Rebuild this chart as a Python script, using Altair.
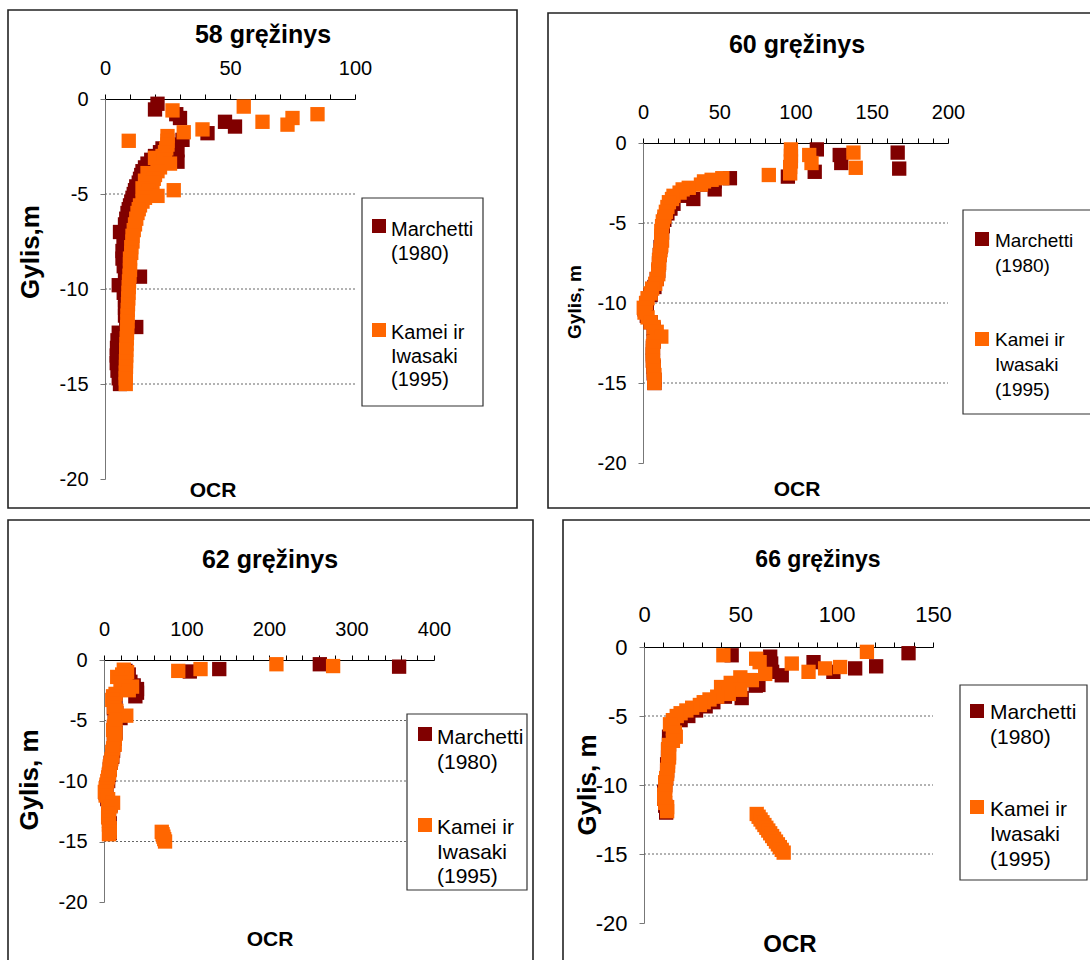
import altair as alt
import pandas as pd

SERIES = ["Marchetti (1980)", "Kamei ir Iwasaki (1995)"]
COLORS = ["#800000", "#FF6600"]
LEGEND_LINES = [["Marchetti", "(1980)"], ["Kamei ir", "Iwasaki", "(1995)"]]
GRID_DEPTHS = [-5, -10, -15]
Y_TICKS = [0, -5, -10, -15, -20]

# ---- 58 gręžinys ----
p58_m_depth = [-0.25, -0.55, -0.8, -1.0, -1.2, -1.45, -1.8, -2.15, -2.4, -2.7, -2.6, -2.8, -3.0, -3.2, -3.3,
               -3.4, -3.6, -3.8, -4.0, -4.2, -4.4, -4.6, -4.8, -5.0, -5.2, -5.4, -5.6, -5.8, -6.0, -6.3,
               -6.6, -7.0, -7.3, -7.6, -8.0, -8.4, -8.8, -9.1, -9.35, -9.8, -10.2, -10.6, -11.0, -11.4,
               -11.8, -12.0, -12.3, -12.7, -13.1, -13.5, -13.9, -14.3, -14.7, -15.0]
p58_m_ocr = [21, 20, 28.5, 30, 48, 52, 41, 31, 28, 29, 23, 22, 20, 18.5, 29,
             17, 16, 15, 14.5, 14, 13.5, 12.5, 12, 11.5, 11, 10.5, 10, 9.5, 9, 8.5,
             8, 6, 7.5, 7.5, 7, 7, 7.5, 8, 14, 5.5, 7.5, 8, 8, 8,
             8.5, 12.5, 5.5, 5, 4.8, 4.7, 4.7, 5, 5.5, 6]
p58_k_depth = [-0.4, -0.6, -0.8, -1.0, -1.2, -1.35, -1.6, -1.75, -1.95, -2.2, -2.2, -2.4, -2.6, -2.8,
               -3.0, -3.1, -3.2, -3.4, -3.6, -3.8, -3.9, -4.0, -4.2, -4.3, -4.4, -4.6, -4.7, -4.8, -4.8,
               -5.0, -5.1, -5.2, -5.4, -5.6, -5.8, -6.0, -6.3, -6.6, -6.9, -7.2, -7.5, -7.8, -8.1,
               -8.4, -8.7, -9.0, -9.3, -9.6, -9.9, -10.2, -10.5, -10.8, -11.1, -11.4, -11.7, -12.0,
               -12.3, -12.6, -12.9, -13.2, -13.5, -13.8, -14.1, -14.4, -14.7, -15.0]
p58_k_ocr = [55.5, 27, 85, 75, 63, 73, 39, 31.5, 25, 9.5, 25, 25, 24.5, 24,
             23, 20, 23.5, 26, 22, 21, 17, 20, 19.5, 16, 19, 18, 15, 17.5, 27.5,
             16.5, 21, 16, 15, 14, 13.5, 13, 12.5, 12, 11.5, 11, 11, 10.5, 10.5,
             10, 10, 10, 9.8, 9.6, 9.5, 9.4, 9.3, 9.2, 9.1, 9, 9, 8.9,
             8.8, 8.7, 8.6, 8.5, 8.5, 8.4, 8.4, 8.3, 8.3, 8.3]

# ---- 60 gręžinys ----
p60_m_depth = [-0.4, -0.75, -1.25, -1.8, -0.6, -1.6, -2.1, -2.2, -2.4, -2.6, -2.9, -3.0, -3.3, -3.5,
               -3.8, -4.1, -4.4, -4.8, -5.2, -5.6, -6.0, -6.5, -7.0, -7.5, -8.0, -8.5, -9.0, -9.5,
               -10.0, -10.4, -10.8, -11.2, -11.6, -12.0, -12.4, -12.8, -13.2, -13.6, -14.0, -14.4,
               -14.8, -15.0]
p60_m_ocr = [114, 129, 130, 112.6, 167, 168, 95, 57, 47, 42, 47, 30, 27, 33,
             20, 18, 16, 14, 13, 12.5, 12, 11.5, 11, 10.5, 10, 9, 7.5, 5,
             2.5, 1, 2.5, 5, 7, 8, 7, 6.5, 6.5, 6.5, 7, 7,
             7.5, 7.5]
p60_k_depth = [-0.4, -0.8, -1.15, -1.5, -1.9, -0.75, -1.25, -0.6, -1.55, -2.0, -2.2, -2.3, -2.4, -2.6,
               -2.8, -2.9, -3.1, -3.3, -3.5, -3.7, -4.0, -4.3, -4.6, -4.9, -5.2, -5.5, -5.8, -6.1,
               -6.4, -6.7, -7.0, -7.3, -7.6, -7.9, -8.2, -8.5, -8.8, -9.1, -9.4, -9.7, -10.0, -10.3,
               -10.6, -10.9, -11.2, -11.5, -11.8, -12.1, -12.4, -12.7, -13.0, -13.3, -13.6, -13.9,
               -14.2, -14.5, -14.8, -15.0]
p60_k_ocr = [97, 97, 97, 96.5, 96.5, 109, 110.5, 138, 139.5, 82.5, 52, 45, 40, 38,
             30, 26, 24, 20, 19, 17, 16, 15, 14, 13, 12.5, 12, 12, 12.5,
             12, 11.5, 11, 10.5, 10.5, 10, 10, 9, 8, 6, 5, 3, 2, 0.5,
             1, 3, 5, 7, 9, 12, 7, 6.5, 6.5, 6.5, 6.5, 7,
             7, 7.5, 7.5, 7.5]

# ---- 62 gręžinys ----
p62_m_depth = [-0.95, -0.75, -0.35, -0.55, -0.9, -1.2, -1.5, -1.8, -2.1, -2.4, -2.7, -3.0, -3.3, -3.6,
               -4.0, -4.4, -4.8, -5.2, -5.6, -6.0, -6.5, -7.0, -7.5, -8.0, -8.5, -9.0, -9.5, -10.0,
               -10.5, -11.0, -11.5, -12.0, -12.5, -13.0, -13.5, -14.0, -14.3]
p62_m_ocr = [104, 139.7, 261.6, 357.7, 26, 30, 28, 32, 36, 40, 40, 38, 14, 13,
             12, 15, 20, 13, 12, 14, 13, 12, 11, 10, 8, 7, 6, 5,
             3, 2, 4, 8, 6, 6, 7, 7, 7]
p62_k_depth = [-0.9, -0.75, -0.35, -0.5, -0.8, -1.0, -1.2, -1.4, -1.6, -1.9, -2.2, -2.5, -2.8, -3.0,
               -3.3, -3.6, -3.9, -4.2, -4.6, -4.9, -5.2, -5.5, -5.8, -6.1, -6.4, -6.7, -7.0, -7.3,
               -7.6, -7.9, -8.2, -8.5, -8.8, -9.1, -9.4, -9.7, -10.0, -10.3, -10.6, -10.9, -11.2,
               -11.5, -11.8, -12.1, -12.4, -12.7, -13.0, -13.3, -13.6, -13.9, -14.2, -14.4,
               -14.2, -14.4, -14.6, -14.8, -15.0]
p62_k_ocr = [90, 117, 209, 277.7, 24, 28, 22, 16, 26, 20, 34, 30, 14, 11,
             10, 13, 12, 15, 27, 14, 13, 12, 11, 14, 13, 12, 13, 11,
             10, 10, 9, 8, 7, 7, 6, 5, 4, 3, 2, 1, 2,
             5, 11, 8, 6, 5, 5, 6, 6, 7, 7, 6,
             70, 71, 72, 73, 74]

# ---- 66 gręžinys ----
p66_m_depth = [-0.6, -0.7, -1.2, -1.8, -2.05, -1.1, -1.8, -1.55, -1.4, -0.45, -2.75, -3.7, -2.4, -2.8,
               -3.2, -3.6, -4.0, -4.3, -4.6, -5.0, -5.3, -5.6, -6.0, -6.5, -7.0, -7.5, -8.0, -8.5,
               -9.0, -9.5, -10.0, -10.5, -11.0, -11.5, -12.0]
p66_m_ocr = [45.5, 65.5, 66, 66.5, 71.5, 88, 98.3, 109.6, 120.5, 137.3, 59.4, 50.7, 55, 58,
             48, 42, 36, 32, 27, 23, 19, 16, 14, 13, 13, 12.5, 12.5, 12,
             12, 11.5, 11, 10.5, 10.5, 11, 11.5]
p66_k_depth = [-0.6, -0.85, -1.95, -1.2, -1.8, -1.55, -1.45, -0.35, -1.1, -2.2, -2.4, -2.6, -2.9, -3.1,
               -3.4, -3.6, -3.8, -4.0, -4.2, -4.4, -4.6, -4.8, -5.0, -5.3, -5.6, -5.9, -6.2, -6.5,
               -6.8, -7.1, -7.4, -7.7, -8.0, -8.3, -8.6, -8.9, -9.2, -9.5, -9.8, -10.1, -10.4,
               -10.7, -11.0, -11.3, -11.6, -11.9,
               -12.1, -12.3, -12.5, -12.7, -12.9, -13.1, -13.3, -13.5, -13.7, -13.9, -14.1, -14.3,
               -14.5, -14.7, -14.9]
p66_k_ocr = [41.2, 58.2, 62.9, 76.7, 85.4, 94, 101.8, 115.7, 60, 50, 56, 45, 40, 50,
             44, 38, 34, 31, 29, 25, 22, 19, 17, 15, 13.5, 15, 16, 16.5,
             15, 13, 12.5, 13, 13, 12.5, 12.5, 12, 12, 11.5, 11, 11, 11,
             10.5, 10.5, 11, 12, 12,
             58.5, 59.5, 60.5, 61.5, 62.5, 63.5, 64.5, 65.5, 66.5, 67.5, 68.5, 69.5,
             70.5, 71.5, 72.5]

FONT = "Liberation Sans"

PANELS = [
    dict(title="58 gręžinys", tpos=(263, 35), tsize=25, xmax=100, xr=[105, 355], yr=[479, 99],
         tick=10, lab=50, lsize=20, border=(8, 10, 517, 508), box=(362, 198, 483, 406),
         sq=[(379, 226), (379, 330)], txt_x=391, txt_y=[220, 323], fsize=20, lh=23.5,
         ocr=(213, 491), osize=21, ytitle="Gylis,m", ypos=(31, 252), ysize=26,
         data=(p58_m_depth, p58_m_ocr, p58_k_depth, p58_k_ocr)),
    dict(title="60 gręžinys", tpos=(797, 45), tsize=25, xmax=200, xr=[643, 948], yr=[463, 143],
         tick=10, lab=50, lsize=20, border=(548, 13, 1100, 508), box=(963, 210, 1100, 414),
         sq=[(982, 239), (982, 339)], txt_x=995, txt_y=[232, 331], fsize=19, lh=25,
         ocr=(797, 490), osize=21, ytitle="Gylis, m", ypos=(575, 302), ysize=19,
         data=(p60_m_depth, p60_m_ocr, p60_k_depth, p60_k_ocr)),
    dict(title="62 gręžinys", tpos=(270, 560), tsize=25, xmax=400, xr=[104, 434], yr=[902, 660],
         tick=20, lab=100, lsize=20, border=(8, 520, 533, 975), box=(407, 714, 527, 890),
         sq=[(425, 734), (425, 825)], txt_x=437, txt_y=[727, 817], fsize=21, lh=24.5,
         ocr=(270, 940), osize=21, ytitle="Gylis, m", ypos=(30, 780), ysize=26,
         data=(p62_m_depth, p62_m_ocr, p62_k_depth, p62_k_ocr)),
    dict(title="66 gręžinys", tpos=(818, 560), tsize=23, xmax=150, xr=[644, 933], yr=[923, 647],
         tick=10, lab=50, lsize=22, border=(563, 520, 1100, 975), box=(960, 685, 1087, 880),
         sq=[(977, 711), (977, 807)], txt_x=990, txt_y=[702, 799], fsize=21, lh=25,
         ocr=(790, 945), osize=24, ytitle="Gylis, m", ypos=(588, 785), ysize=26,
         data=(p66_m_depth, p66_m_ocr, p66_k_depth, p66_k_ocr)),
]

ONE = alt.Data(values=[{"k": 0}])
color_scale = alt.Scale(domain=SERIES, range=COLORS)


def panel_layers(p):
    md, mo, kd, ko = p["data"]
    df = pd.DataFrame(
        [{"ocr": o, "depth": d, "series": SERIES[0]} for d, o in zip(md, mo)]
        + [{"ocr": o, "depth": d, "series": SERIES[1]} for d, o in zip(kd, ko)]
    )
    xs = alt.Scale(domain=[0, p["xmax"]], range=p["xr"], nice=False, zero=False)
    ys = alt.Scale(domain=[-20, 0], range=p["yr"], nice=False, zero=False)
    x0, y0 = p["xr"][0], p["yr"][1]
    layers = []
    b = p["border"]
    layers.append(
        alt.Chart(ONE).mark_rect(fillOpacity=0, stroke="#222222", strokeWidth=1.6).encode(
            x=alt.value(b[0]), x2=alt.value(b[2]), y=alt.value(b[1]), y2=alt.value(b[3]))
    )
    grid = pd.DataFrame({"g": GRID_DEPTHS, "a": [0] * 3, "b": [p["xmax"]] * 3})
    layers.append(
        alt.Chart(grid).mark_rule(color="#666666", strokeWidth=1, strokeDash=[2, 2]).encode(
            y=alt.Y("g:Q", scale=ys, axis=None),
            x=alt.X("a:Q", scale=xs, axis=None),
            x2="b:Q")
    )
    xaxis = alt.Axis(orient="top", offset=-y0, values=list(range(0, p["xmax"] + 1, p["tick"])),
                     labelExpr=f"datum.value % {p['lab']} === 0 ? datum.label : ''",
                     labelFlush=False, labelOverlap=False, labelFont=FONT, labelFontSize=p["lsize"],
                     labelColor="black", labelPadding=16, tickSize=5, tickColor="black",
                     domainColor="black", grid=False, title=None, labelAngle=0)
    yaxis = alt.Axis(orient="left", offset=-x0, values=Y_TICKS, labelFlush=False,
                     labelExpr="datum.value + ''",
                     labelOverlap=False, labelFont=FONT, labelFontSize=p["lsize"],
                     labelColor="black", labelPadding=12, tickSize=5, tickColor="#777777",
                     domainColor="#777777", grid=False, title=None)
    layers.append(
        alt.Chart(df).mark_square(size=205, opacity=1).encode(
            x=alt.X("ocr:Q", scale=xs, axis=xaxis),
            y=alt.Y("depth:Q", scale=ys, axis=yaxis),
            color=alt.Color("series:N", scale=color_scale, legend=None))
    )
    bx = p["box"]
    layers.append(
        alt.Chart(ONE).mark_rect(fill="white", stroke="#333333", strokeWidth=1.2).encode(
            x=alt.value(bx[0]), x2=alt.value(bx[2]), y=alt.value(bx[1]), y2=alt.value(bx[3]))
    )
    for i in range(2):
        layers.append(
            alt.Chart(ONE).mark_square(size=196, opacity=1, color=COLORS[i]).encode(
                x=alt.value(p["sq"][i][0]), y=alt.value(p["sq"][i][1]))
        )
        layers.append(
            alt.Chart(ONE).mark_text(align="left", baseline="top", font=FONT, fontSize=p["fsize"],
                                     lineHeight=p["lh"], color="black").encode(
                x=alt.value(p["txt_x"]), y=alt.value(p["txt_y"][i]), text=alt.value(LEGEND_LINES[i]))
        )
    layers.append(
        alt.Chart(ONE).mark_text(align="center", baseline="middle", font=FONT, fontSize=p["tsize"],
                                 fontWeight="bold", color="black").encode(
            x=alt.value(p["tpos"][0]), y=alt.value(p["tpos"][1]), text=alt.value(p["title"]))
    )
    layers.append(
        alt.Chart(ONE).mark_text(align="center", baseline="middle", font=FONT, fontSize=p["osize"],
                                 fontWeight="bold", color="black").encode(
            x=alt.value(p["ocr"][0]), y=alt.value(p["ocr"][1]), text=alt.value("OCR"))
    )
    layers.append(
        alt.Chart(ONE).mark_text(align="center", baseline="middle", font=FONT, fontSize=p["ysize"],
                                 fontWeight="bold", angle=270, color="black").encode(
            x=alt.value(p["ypos"][0]), y=alt.value(p["ypos"][1]), text=alt.value(p["ytitle"]))
    )
    return layers


all_layers = []
for p in PANELS:
    all_layers.extend(panel_layers(p))

chart = alt.layer(*all_layers).resolve_scale(x="independent", y="independent").properties(
    width=1090, height=960, padding=0, autosize=alt.AutoSizeParams(type="none"),
    background="white",
).configure_view(strokeWidth=0)

chart.save("out.html", embed_options={"renderer": "svg", "actions": False})
